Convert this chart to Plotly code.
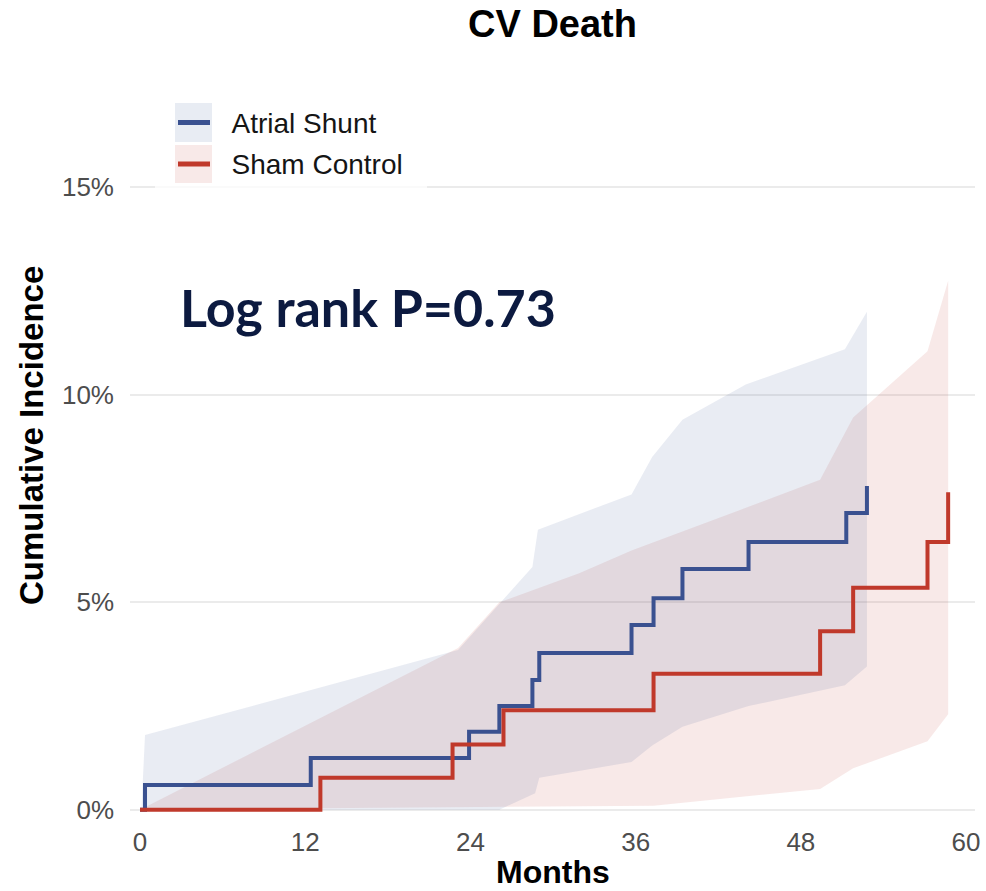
import plotly.graph_objects as go

# ---- data (months, cumulative incidence %) ----
shunt_t = [0, 0.36, 12.4, 23.9, 26.1, 28.5, 29.0, 35.7, 37.3, 39.4, 44.2, 51.3, 52.8]
shunt_v = [0, 0.6, 1.25, 1.88, 2.5, 3.13, 3.78, 4.45, 5.1, 5.8, 6.45, 7.15, 7.8]
sham_t = [0, 13.1, 22.7, 26.4, 37.3, 49.4, 51.8, 57.2, 58.7]
sham_v = [0, 0.77, 1.57, 2.4, 3.28, 4.3, 5.35, 6.45, 7.65]

shunt_up_t = [0.1, 0.36, 23.1, 28.5, 28.9, 35.7, 37.2, 39.4, 44.0, 51.2, 52.8]
shunt_up_v = [0, 1.8, 3.85, 5.85, 6.75, 7.6, 8.5, 9.4, 10.25, 11.1, 12.0]
shunt_lo_t = [0.1, 26.1, 28.7, 29.0, 35.7, 37.2, 39.4, 44.2, 51.2, 52.8]
shunt_lo_v = [0, 0, 0.4, 0.77, 1.15, 1.55, 2.0, 2.5, 3.0, 3.45]

sham_up_t = [0, 23.1, 26.1, 31.9, 35.7, 39.4, 44.2, 49.4, 51.8, 57.2, 58.7]
sham_up_v = [0, 3.9, 5.0, 5.7, 6.25, 6.7, 7.3, 7.95, 9.45, 11.05, 12.75]
sham_lo_t = [0, 37.3, 49.4, 51.8, 57.2, 58.7]
sham_lo_v = [0, 0.1, 0.5, 1.0, 1.65, 2.3]

x_ticks = [0, 12, 24, 36, 48, 60]
y_ticks = [0, 5, 10, 15]
y_tick_labels = ["0%", "5%", "10%", "15%"]
series_names = ["Atrial Shunt", "Sham Control"]

BLUE = "#3a5190"
RED = "#c0392b"
BLUE_BAND = "rgba(58,81,144,0.11)"
RED_BAND = "rgba(192,57,43,0.11)"

# layout geometry (page body margin removed via post_script, figure at 0,0)
W, H = 986, 891
ML, MR, MT, MB = 130, 11, 179, 75
PW, PH = W - ML - MR, H - MT - MB


def px(xs):  # screen x -> paper x
    return (xs - ML) / PW


def py(ys):  # screen y -> paper y
    return (H - MB - ys) / PH


fig = go.Figure()

fig.add_trace(go.Scatter(
    x=sham_up_t + sham_lo_t[::-1], y=sham_up_v + sham_lo_v[::-1],
    fill="toself", fillcolor=RED_BAND, line=dict(width=0), mode="lines",
    showlegend=False, hoverinfo="skip"))
fig.add_trace(go.Scatter(
    x=shunt_up_t + shunt_lo_t[::-1], y=shunt_up_v + shunt_lo_v[::-1],
    fill="toself", fillcolor=BLUE_BAND, line=dict(width=0), mode="lines",
    showlegend=False, hoverinfo="skip"))

fig.add_trace(go.Scatter(
    x=shunt_t, y=shunt_v, mode="lines", line=dict(color=BLUE, width=4, shape="hv"),
    name=series_names[0], showlegend=False))
fig.add_trace(go.Scatter(
    x=sham_t, y=sham_v, mode="lines", line=dict(color=RED, width=4, shape="hv"),
    name=series_names[1], showlegend=False))

# legend entries (swatches drawn as shapes below)
for i, nm in enumerate(series_names):
    fig.add_trace(go.Scatter(
        x=[None], y=[None], mode="lines", line=dict(color="rgba(0,0,0,0)", width=1),
        name=nm, legendgroup=str(i), showlegend=True))

FONT = "Liberation Sans, Arial, sans-serif"

shapes = [
    # white veil behind legend (partially hides top gridline)
    dict(type="rect", xref="paper", yref="paper", x0=px(155), x1=px(427), y0=py(190), y1=py(95),
         fillcolor="rgba(255,255,255,0.75)", line=dict(width=0), layer="above"),
    # legend swatch boxes
    dict(type="rect", xref="paper", yref="paper", x0=px(175), x1=px(212), y0=py(142), y1=py(103),
         fillcolor="#e8ecf3", line=dict(width=0), layer="above"),
    dict(type="rect", xref="paper", yref="paper", x0=px(175), x1=px(212), y0=py(183), y1=py(145),
         fillcolor="#f8e9e8", line=dict(width=0), layer="above"),
    # legend swatch lines
    dict(type="line", xref="paper", yref="paper", x0=px(178), x1=px(210), y0=py(122.5), y1=py(122.5),
         line=dict(color=BLUE, width=5), layer="above"),
    dict(type="line", xref="paper", yref="paper", x0=px(178), x1=px(210), y0=py(164), y1=py(164),
         line=dict(color=RED, width=5), layer="above"),
]

fig.update_layout(
    width=W, height=H,
    margin=dict(l=ML, r=MR, t=MT, b=MB, autoexpand=False),
    paper_bgcolor="white", plot_bgcolor="white",
    font=dict(family=FONT, color="#4d4d4d"),
    title=dict(text="<b>CV Death</b>", x=0.5, xref="paper", xanchor="center",
               y=1 - 24 / H, yanchor="middle",
               font=dict(size=38, color="black", family=FONT)),
    xaxis=dict(range=[-0.73, 60.65], tickvals=x_ticks, showgrid=False, zeroline=False,
               showline=False, ticks="", tickfont=dict(size=26, color="#4d4d4d"),
               ticklabelstandoff=8, automargin=False),
    yaxis=dict(range=[-0.15, 15.2], tickvals=y_ticks, ticktext=y_tick_labels, showgrid=True,
               gridcolor="#ebebeb", gridwidth=2, zeroline=False, showline=False, ticks="",
               tickfont=dict(size=26, color="#4d4d4d"), ticklabelstandoff=15, automargin=False),
    legend=dict(xref="container", yref="container", x=191.5 / W, y=1 - 97 / H,
                xanchor="left", yanchor="top", bgcolor="rgba(0,0,0,0)",
                font=dict(size=28, color="#151515"), traceorder="grouped", tracegroupgap=2),
    showlegend=True,
    shapes=shapes,
    annotations=[
        dict(text="<b>Cumulative Incidence</b>", textangle=-90, xref="paper", yref="paper",
             x=px(31), y=py(436), xanchor="center", yanchor="middle",
             showarrow=False, font=dict(size=33, color="black", family=FONT)),
        dict(text="<b>Months</b>", xref="paper", yref="paper",
             x=px(553), y=py(872), xanchor="center", yanchor="middle",
             showarrow=False, font=dict(size=32, color="black", family=FONT)),
        dict(text="<b>Log rank P=0.73</b>", xref="paper", yref="paper",
             x=px(178), y=py(307), xanchor="left", yanchor="middle",
             showarrow=False, font=dict(size=52, color="#0c1a40", family="Lato, sans-serif")),
    ],
)

fig.write_html("out.html", config={"displayModeBar": False},
               post_script="document.body.style.margin='0';")
